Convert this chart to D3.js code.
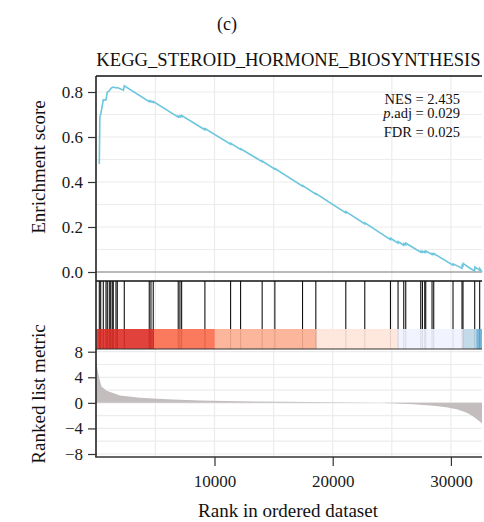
<!DOCTYPE html>
<html>
<head>
<meta charset="utf-8">
<script src="https://cdn.jsdelivr.net/npm/d3@7"></script>
<style>
body { margin: 0; background: #fff; }
text { font-family: "Liberation Serif", serif; }
</style>
</head>
<body>
<svg id="chart" width="484" height="522"></svg>
<script>
// gene set members, position in the ranked list
var hitRanks = [254, 372, 592, 820, 930, 1099, 1217, 1352, 1437, 1665, 1775, 2367,
    4480, 4624, 4818, 6931, 7075, 7219, 9188, 11361, 12206, 14032, 15106, 17447,
    18572, 21107, 22713, 24886, 25528, 26010, 26179, 27447, 27591, 27786, 27870,
    28403, 28546, 30178, 30939, 31023, 32012, 32434];

// running enrichment score
var esRanks = [254, 300, 372, 592, 820, 930, 1099, 1217, 1352, 1437, 1665, 1775, 2300, 2367,
    4480, 4490, 4624, 4634, 4818, 4828, 6931, 6941, 7075, 7085, 7219, 7229,
    9188, 9198, 11361, 11371, 12206, 12216, 14032, 14042, 15106, 15116, 17447, 17457,
    18572, 18582, 21107, 21117, 22713, 22723, 24886, 24896, 25528, 25538, 26010, 26020,
    26179, 26189, 27447, 27457, 27591, 27601, 27786, 27796, 27870, 27880, 28403, 28413,
    28546, 28556, 30178, 30188, 30939, 30949, 31023, 31033, 31580, 32012, 32022, 32434,
    32444, 32630];
var esScores = [0.48, 0.69, 0.70, 0.765, 0.765, 0.80, 0.805, 0.815, 0.82, 0.822, 0.818, 0.82, 0.808, 0.827,
    0.757, 0.761, 0.757, 0.760, 0.754, 0.757, 0.688, 0.693, 0.689, 0.694, 0.690, 0.695,
    0.632, 0.637, 0.568, 0.572, 0.545, 0.548, 0.490, 0.493, 0.457, 0.460, 0.381, 0.384,
    0.346, 0.349, 0.263, 0.268, 0.214, 0.218, 0.144, 0.150, 0.128, 0.135, 0.119, 0.126,
    0.121, 0.128, 0.088, 0.092, 0.088, 0.092, 0.087, 0.091, 0.089, 0.093, 0.078, 0.082,
    0.078, 0.082, 0.030, 0.036, 0.017, 0.030, 0.028, 0.038, 0.018, 0.005, 0.022, 0.008,
    0.015, 0.0];

// ranked list metric
var metricRanks = [0, 100, 250, 450, 880, 2000, 3700, 6000, 8800, 12000, 16000, 20000,
    24000, 26800, 28500, 29600, 30500, 31300, 31800, 32140, 32630];
var metricValues = [6.6, 5.2, 3.8, 2.5, 1.9, 1.15, 0.78, 0.57, 0.36, 0.25, 0.18, 0.1,
    0.0, -0.2, -0.45, -0.7, -1.0, -1.5, -2.0, -2.5, -3.2];

// colour band under the barcode
var bandStarts = [0, 4880, 10030, 18630, 25530, 31020, 32140];
var bandEnds = [4880, 10030, 18630, 25530, 31020, 32140, 32630];
var bandColors = ["#DE2D26", "#FB6A4A", "#FCAE91", "#FEE5D9", "#EFF3FF", "#BDD7E7", "#6BAED6"];

var esTicks = [0.0, 0.2, 0.4, 0.6, 0.8];
var metricTicks = [-8, -4, 0, 4, 8];
var rankTicks = [10000, 20000, 30000];
var nGenes = 32630;

var svg = d3.select("#chart");
var left = 96, right = 482;
var topP = {y0: 76, y1: 279},
    midP = {y0: 281, y1: 349},
    botP = {y0: 349, y1: 457};

var x = d3.scaleLinear().domain([0, nGenes]).range([96.3, right]);
var yES = d3.scaleLinear().domain([0, 0.8]).range([272, 92]);
var yM = d3.scaleLinear().domain([-8, 8]).range([454, 351.7]);

var gridColor = "#ececec";

// vertical grid, all three panels
svg.append("g").selectAll("line")
    .data(d3.range(5000, nGenes, 5000))
    .enter().append("line")
    .attr("x1", d => x(d)).attr("x2", d => x(d))
    .attr("y1", topP.y0).attr("y2", botP.y1)
    .attr("stroke", gridColor).attr("stroke-width", 1.2);

svg.append("g").selectAll("line")
    .data(d3.range(1, 9).map(d => d / 10))
    .enter().append("line")
    .attr("x1", left).attr("x2", right)
    .attr("y1", d => yES(d)).attr("y2", d => yES(d))
    .attr("stroke", gridColor).attr("stroke-width", 1.2);

svg.append("g").selectAll("line")
    .data(d3.range(-8, 9, 2))
    .enter().append("line")
    .attr("x1", left).attr("x2", right)
    .attr("y1", d => yM(d)).attr("y2", d => yM(d))
    .attr("stroke", gridColor).attr("stroke-width", 1.2);

// zero line in ES panel
svg.append("line")
    .attr("x1", left).attr("x2", right)
    .attr("y1", yES(0)).attr("y2", yES(0))
    .attr("stroke", "#a3a3a3").attr("stroke-width", 1.6);

// running ES curve
var esData = esRanks.map((r, i) => [r, esScores[i]]);
svg.append("path")
    .datum(esData)
    .attr("fill", "none")
    .attr("stroke", "#6cc6de")
    .attr("stroke-width", 1.6)
    .attr("d", d3.line().x(d => x(d[0])).y(d => yES(d[1])));

// barcode
svg.append("g").selectAll("line")
    .data(hitRanks)
    .enter().append("line")
    .attr("x1", d => x(d)).attr("x2", d => x(d))
    .attr("y1", midP.y0).attr("y2", midP.y1)
    .attr("stroke", "#111").attr("stroke-width", 1.1);

svg.append("g").selectAll("rect")
    .data(bandStarts)
    .enter().append("rect")
    .attr("x", d => x(d))
    .attr("width", (d, i) => x(bandEnds[i]) - x(d))
    .attr("y", 329).attr("height", midP.y1 - 329)
    .attr("fill", (d, i) => bandColors[i])
    .attr("fill-opacity", 0.9);

svg.append("line").attr("x1", left).attr("x2", right)
    .attr("y1", midP.y0).attr("y2", midP.y0)
    .attr("stroke", "#111").attr("stroke-width", 1.6);
svg.append("line").attr("x1", left).attr("x2", right)
    .attr("y1", midP.y1).attr("y2", midP.y1)
    .attr("stroke", "#333").attr("stroke-width", 1.2);

// ranked list metric
var mData = metricRanks.map((r, i) => [r, metricValues[i]]);
svg.append("path")
    .datum(mData)
    .attr("fill", "#c3bdbd")
    .attr("d", d3.area().x(d => x(d[0])).y0(yM(0)).y1(d => yM(d[1])));

// panel edges
svg.append("line").attr("x1", left).attr("x2", right)
    .attr("y1", topP.y0).attr("y2", topP.y0)
    .attr("stroke", "#111").attr("stroke-width", 1.5);
svg.append("line").attr("x1", left).attr("x2", left)
    .attr("y1", topP.y0).attr("y2", botP.y1)
    .attr("stroke", "#222").attr("stroke-width", 1.6);
svg.append("line").attr("x1", left - 0.8).attr("x2", right)
    .attr("y1", botP.y1).attr("y2", botP.y1)
    .attr("stroke", "#333").attr("stroke-width", 1.6);

// axes
function styleAxis(g) {
    g.select(".domain").remove();
    g.selectAll(".tick line").attr("stroke", "#333").attr("stroke-width", 1.2);
    g.selectAll(".tick text")
        .style("font-family", "Liberation Serif, serif")
        .style("font-size", "17px")
        .attr("fill", "#1a1a1a");
}

svg.append("g")
    .attr("transform", "translate(" + left + ",0)")
    .call(d3.axisLeft(yES).tickValues(esTicks).tickFormat(d3.format(".1f")).tickSize(8).tickPadding(5))
    .call(styleAxis);

svg.append("g")
    .attr("transform", "translate(" + left + ",0)")
    .call(d3.axisLeft(yM).tickValues(metricTicks).tickFormat(d => d < 0 ? "\u2212" + Math.abs(d) : d).tickSize(8).tickPadding(5))
    .call(styleAxis);

svg.append("g")
    .attr("transform", "translate(0," + botP.y1 + ")")
    .call(d3.axisBottom(x).tickValues(rankTicks).tickFormat(d3.format("d")).tickSize(9).tickPadding(9))
    .call(styleAxis);

// titles and labels
svg.append("text").attr("x", 227).attr("y", 30)
    .attr("text-anchor", "middle").style("font-size", "18px").attr("fill", "#111")
    .text("(c)");
svg.append("text").attr("x", 288.5).attr("y", 66)
    .attr("text-anchor", "middle").style("font-size", "18.6px").attr("fill", "#111")
    .text("KEGG_STEROID_HORMONE_BIOSYNTHESIS");

svg.append("text")
    .attr("transform", "translate(45,167) rotate(-90)")
    .attr("text-anchor", "middle").style("font-size", "19px").attr("fill", "#111")
    .text("Enrichment score");
svg.append("text")
    .attr("transform", "translate(45,394) rotate(-90)")
    .attr("text-anchor", "middle").style("font-size", "19px").attr("fill", "#111")
    .text("Ranked list metric");
svg.append("text").attr("x", 288).attr("y", 517)
    .attr("text-anchor", "middle").style("font-size", "19px").attr("fill", "#111")
    .text("Rank in ordered dataset");

// statistics box
var stat = svg.append("g").style("font-size", "14.5px").attr("fill", "#111").attr("text-anchor", "end");
stat.append("text").attr("x", 460).attr("y", 103.5).text("NES = 2.435");
var p = stat.append("text").attr("x", 460).attr("y", 118);
p.append("tspan").style("font-style", "italic").text("p");
p.append("tspan").text(".adj = 0.029");
stat.append("text").attr("x", 460).attr("y", 136.5).text("FDR = 0.025");
</script>
</body>
</html>
